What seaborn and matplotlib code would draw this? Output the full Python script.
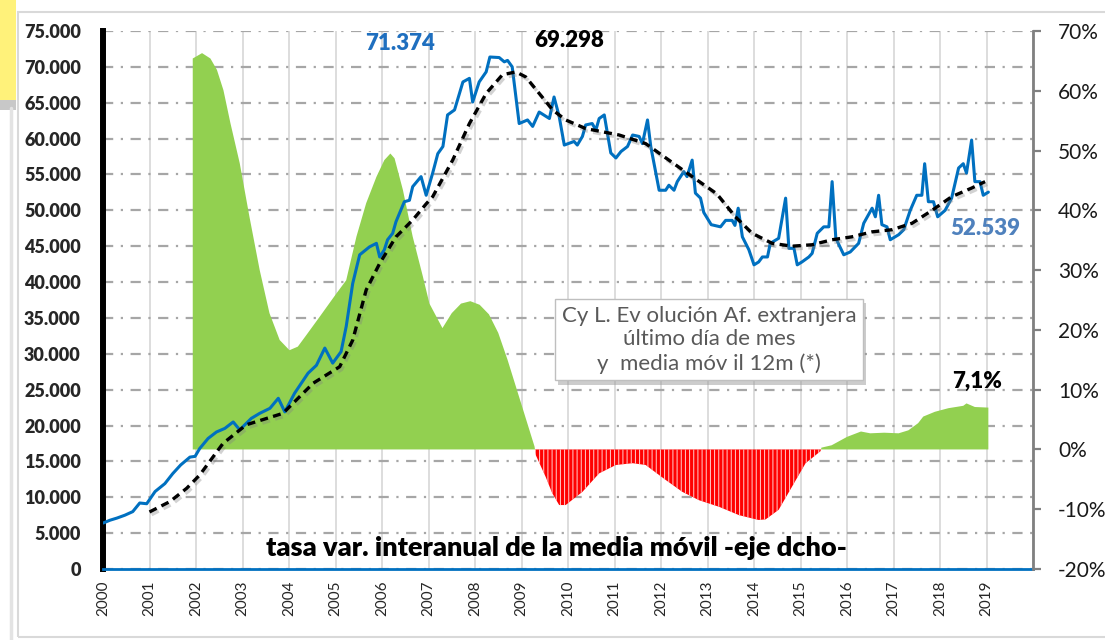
#%%
import numpy as np
import pandas as pd
import matplotlib
matplotlib.use("Agg")
import matplotlib.pyplot as plt
import matplotlib.patheffects as pe
from matplotlib.patches import Rectangle
from matplotlib.lines import Line2D
from matplotlib.ticker import FuncFormatter, MultipleLocator
import seaborn as sns

#%%
# Afiliados extranjeros CyL - ultimo dia de mes (fecha en años decimales)
fecha_mes = [2000.00, 2000.15, 2000.30, 2000.47, 2000.64, 2000.79, 2000.94, 2001.12, 2001.33, 2001.50,
             2001.67, 2001.87, 2001.98, 2002.08, 2002.26, 2002.44, 2002.62, 2002.80, 2002.94, 2003.19,
             2003.37, 2003.59, 2003.77, 2003.91, 2004.12, 2004.41, 2004.59, 2004.77, 2004.94, 2005.12,
             2005.23, 2005.37, 2005.52, 2005.73, 2005.88, 2005.95, 2006.05, 2006.12, 2006.23, 2006.30,
             2006.48, 2006.59, 2006.66, 2006.84, 2006.95, 2007.09, 2007.20, 2007.31, 2007.41, 2007.56,
             2007.74, 2007.88, 2007.95, 2008.09, 2008.24, 2008.32, 2008.52, 2008.63, 2008.70, 2008.80,
             2008.95, 2009.13, 2009.24, 2009.38, 2009.60, 2009.70, 2009.81, 2009.92, 2010.13, 2010.20,
             2010.31, 2010.38, 2010.52, 2010.60, 2010.67, 2010.78, 2010.92, 2011.03, 2011.14, 2011.28,
             2011.39, 2011.53, 2011.60, 2011.71, 2011.78, 2011.96, 2012.10, 2012.17, 2012.28, 2012.35,
             2012.49, 2012.56, 2012.67, 2012.74, 2012.85, 2012.92, 2013.08, 2013.28, 2013.39, 2013.53,
             2013.59, 2013.66, 2013.75, 2013.89, 2014.00, 2014.10, 2014.18, 2014.29, 2014.35, 2014.53,
             2014.68, 2014.75, 2014.86, 2014.93, 2015.03, 2015.18, 2015.25, 2015.36, 2015.50, 2015.61,
             2015.68, 2015.76, 2015.93, 2016.07, 2016.25, 2016.36, 2016.54, 2016.61, 2016.68, 2016.75,
             2016.86, 2016.93, 2017.11, 2017.22, 2017.36, 2017.50, 2017.61, 2017.67, 2017.75, 2017.86,
             2017.95, 2018.11, 2018.25, 2018.40, 2018.50, 2018.57, 2018.68, 2018.75, 2018.86, 2018.93,
             2019.04]
saldo_mes = [6400, 6800, 7100, 7500, 8000, 9200, 9100, 10800, 11900, 13300,
             14500, 15600, 15700, 16800, 18200, 19100, 19600, 20500, 19400, 21000,
             21700, 22400, 23800, 21900, 24500, 27300, 28400, 30800, 28700, 30300,
             33800, 39800, 43800, 44900, 45400, 43500, 44500, 45900, 46800, 48400,
             51200, 51400, 53300, 54700, 52100, 55200, 57900, 58900, 63300, 64000,
             67900, 68400, 65100, 67900, 69300, 71374, 71300, 70700, 70900, 70000,
             62100, 62600, 61700, 63700, 62800, 65800, 63100, 59100, 59600, 59100,
             60300, 61900, 62100, 61200, 62800, 63300, 58000, 57300, 58200, 58900,
             60500, 60300, 59300, 62600, 58900, 52800, 52800, 53500, 52800, 54000,
             55400, 54700, 57000, 52400, 51700, 49700, 48000, 47700, 48600, 48600,
             47900, 50300, 46300, 44500, 42400, 42800, 43500, 43500, 45400, 46100,
             51700, 44700, 44700, 42400, 42800, 43500, 44000, 46800, 47700, 47700,
             54000, 46100, 43800, 44200, 45400, 48200, 50300, 49100, 52100, 48000,
             47700, 45900, 46600, 47300, 50000, 52100, 52100, 56500, 51200, 51200,
             49100, 50000, 51700, 55900, 56500, 55200, 59800, 54000, 54000, 52100,
             52539]

# media movil 12 meses
fecha_media = [2001.00, 2001.44, 2001.80, 2002.08, 2002.58, 2003.08, 2003.87, 2004.52, 2005.09, 2005.37,
               2005.66, 2005.95, 2006.30, 2006.66, 2006.95, 2007.09, 2007.52, 2007.88, 2008.24, 2008.59,
               2008.88, 2009.09, 2009.38, 2009.67, 2009.95, 2010.38, 2011.10, 2011.67, 2012.17, 2012.67,
               2013.20, 2013.60, 2013.96, 2014.39, 2014.82, 2015.25, 2015.68, 2016.10, 2016.54, 2016.97,
               2017.40, 2017.83, 2018.25, 2018.68, 2018.97]
media_movil = [7950, 9400, 11250, 13100, 17500, 20100, 21700, 25900, 28200, 31900,
               38900, 42600, 46300, 48650, 50900, 51900, 57000, 62100, 66300, 68900,
               69298, 68600, 66300, 64000, 62600, 61400, 60500, 59300, 57000, 54700,
               52300, 49100, 46800, 45400, 45000, 45200, 45900, 46300, 47000, 47300,
               48200, 50000, 51900, 53100, 54000]

# tasa de variacion interanual de la media movil (%)
fecha_tasa = [2001.93, 2002.13, 2002.31, 2002.45, 2002.59, 2002.74, 2002.94, 2003.15, 2003.37, 2003.58,
              2003.80, 2004.01, 2004.19, 2004.37, 2004.66, 2005.02, 2005.23, 2005.45, 2005.66, 2005.88,
              2006.05, 2006.18, 2006.27, 2006.45, 2006.66, 2006.88, 2007.02, 2007.30, 2007.50, 2007.70,
              2007.90, 2008.10, 2008.30, 2008.50, 2008.70, 2008.90, 2009.10, 2009.28, 2009.31, 2009.52,
              2009.66, 2009.81, 2009.95, 2010.31, 2010.67, 2011.03, 2011.39, 2011.67, 2012.10, 2012.46,
              2012.82, 2013.25, 2013.68, 2014.10, 2014.25, 2014.53, 2014.82, 2015.11, 2015.43, 2015.45,
              2015.67, 2016.00, 2016.30, 2016.50, 2016.80, 2017.11, 2017.32, 2017.53, 2017.64, 2017.89,
              2018.18, 2018.50, 2018.57, 2018.75, 2019.04]
tasa_var = [65.4, 66.3, 65.4, 63.5, 60.1, 54.6, 47.9, 38.9, 30.0, 22.8,
            18.3, 16.6, 17.2, 19.1, 22.2, 26.1, 28.3, 35.6, 41.2, 45.6,
            48.4, 49.5, 48.7, 43.4, 35.6, 28.9, 24.4, 20.3, 22.8, 24.4,
            24.8, 24.2, 22.6, 19.5, 15.0, 10.0, 5.0, 0.5, -1.0, -4.6,
            -7.3, -9.3, -9.3, -7.1, -4.0, -2.6, -2.3, -2.6, -5.1, -7.1,
            -8.5, -9.6, -11.0, -11.8, -11.7, -10.1, -6.2, -2.3, -0.3, 0.3,
            0.7, 2.1, 3.0, 2.7, 2.8, 2.7, 3.2, 4.4, 5.5, 6.3,
            6.9, 7.3, 7.7, 7.1, 7.0]

anios = list(range(2000, 2021))
etiquetas_anio = [str(a) for a in anios[:-1]] + [""]

#%%
sns.set_style("white")
plt.rcParams['font.family'] = ['Lato', 'DejaVu Sans']
plt.rcParams['hatch.linewidth'] = 0.7

AZUL = '#0070C0'
VERDE = '#92D050'
ROJO = '#FF0000'

fig = plt.figure(figsize=(11.05, 6.4), dpi=100)
fig.patch.set_facecolor('white')

# marco de la hoja y nota amarilla
fig.patches.append(Rectangle((18/1105, 3/640), 1.0, 625/640, transform=fig.transFigure,
                             fill=False, edgecolor='#D9D9D9', lw=1.5))
fig.lines.append(Line2D([11/1105, 11/1105], [0, 532/640], transform=fig.transFigure,
                        color='#E3E3E3', lw=2.5))
fig.patches.append(Rectangle((0, 530/640), 16/1105, 10/640, transform=fig.transFigure,
                             facecolor='#C8C8C8', edgecolor='none'))
fig.patches.append(Rectangle((0, 540/640), 16/1105, 100/640, transform=fig.transFigure,
                             facecolor='#FFF27A', edgecolor='none'))

ax = fig.add_axes([103/1105, 71/640, 930/1105, 538/640])
ax2 = ax.twinx()   # eje dcho: tasa
ax3 = ax.twinx()   # lineas sobre las areas

# rejilla
ax.set_xlim(2000, 2020)
ax.set_ylim(0, 75000)
ax.yaxis.set_major_locator(MultipleLocator(5000))
ax.set_xticks(anios)
ax.set_xticklabels(etiquetas_anio, rotation=90, fontsize=11)
ax.grid(axis='y', color='#A6A6A6', lw=1.6, linestyle=(0, (4.6, 3.4, 1.0, 3.4)))
ax.grid(axis='x', color='#DADADA', lw=1.3, linestyle='-')
ax.yaxis.set_major_formatter(FuncFormatter(lambda v, p: f"{v:,.0f}".replace(",", ".")))
ax.tick_params(axis='y', length=0, pad=16, labelsize=13)
for lab in ax.get_yticklabels():
    lab.set_fontweight('heavy')
ax.tick_params(axis='x', length=4, width=1.5, color=AZUL, direction='out', pad=4)
ax.spines['left'].set_linewidth(4.3)
ax.spines['left'].set_color('black')
ax.spines['bottom'].set_linewidth(2)
ax.spines['bottom'].set_color(AZUL)
ax.spines['top'].set_visible(False)
ax.spines['right'].set_visible(False)

# areas tasa de variacion
fecha_tasa_a = np.array(fecha_tasa)
tasa_a = np.array(tasa_var)
ax2.fill_between(fecha_tasa_a, tasa_a, 0, where=tasa_a >= 0, interpolate=True,
                 color=VERDE, lw=0)
ax2.fill_between(fecha_tasa_a, tasa_a, 0, where=tasa_a <= 0, interpolate=True,
                 facecolor=ROJO, edgecolor='#FFD0D0', hatch='||||', lw=0)
ax2.set_ylim(-20, 70)
ax2.yaxis.set_major_locator(MultipleLocator(10))
ax2.yaxis.set_major_formatter(FuncFormatter(lambda v, p: f"{v:.0f}%"))
ax2.tick_params(axis='y', length=6, width=1.6, color='#808080', pad=12, labelsize=15,
                labelcolor='#1A1A1A')
for s in ['left', 'top', 'bottom']:
    ax2.spines[s].set_visible(False)
ax2.spines['right'].set_color('#808080')
ax2.spines['right'].set_linewidth(2)

# lineas
df_mes = pd.DataFrame({'fecha': fecha_mes, 'saldo': saldo_mes})
df_media = pd.DataFrame({'fecha': fecha_media, 'media': media_movil})
sns.lineplot(data=df_mes, x='fecha', y='saldo', ax=ax3, color=AZUL, lw=2.2)
sns.lineplot(data=df_media, x='fecha', y='media', ax=ax3, color='black', lw=2.4,
             linestyle=(0, (2.4, 1.6)),
             path_effects=[pe.SimpleLineShadow(offset=(1.5, -2), shadow_color='#808080', alpha=0.35),
                           pe.Normal()])
ax3.set_ylim(0, 75000)
ax3.set_xlim(2000, 2020)
ax3.set_ylabel('')
ax3.set_xlabel('')
ax3.set_yticks([])
for s in ax3.spines.values():
    s.set_visible(False)
ax.set_xlabel('')
ax.set_ylabel('')
ax2.set_ylabel('')

# rotulos
ax3.text(2006.38, 73300, "71.374", color='#1F6FBF', fontsize=16, fontweight='heavy',
         ha='center', va='center')
ax3.text(2010.03, 73700, "69.298", color='black', fontsize=16, fontweight='heavy',
         ha='center', va='center')
ax3.text(2018.98, 47500, "52.539", color='#4F81BD', fontsize=16, fontweight='heavy',
         ha='center', va='center')
ax2.text(2018.79, 11.3, "7,1%", color='black', fontsize=16, fontweight='heavy',
         ha='center', va='center')
ax3.text(2009.75, 2930, "tasa var. interanual de la media móvil -eje dcho-", color='black',
         fontsize=19.5, fontweight='heavy', ha='center', va='center')
caja = ax3.text(2013.03, 31950, "Cy L. Ev olución Af. extranjera\núltimo día de mes\ny  media móv il 12m (*)",
                color='#595959', fontsize=16, ha='center', va='center', linespacing=1.22,
                bbox=dict(boxstyle='square,pad=0.3', facecolor='white', edgecolor='#BFBFBF', lw=1))
caja.get_bbox_patch().set_path_effects([pe.withSimplePatchShadow(offset=(2, -3), shadow_rgbFace='#9A9A9A', alpha=0.5)])

plt.savefig("out.png", dpi=100)
